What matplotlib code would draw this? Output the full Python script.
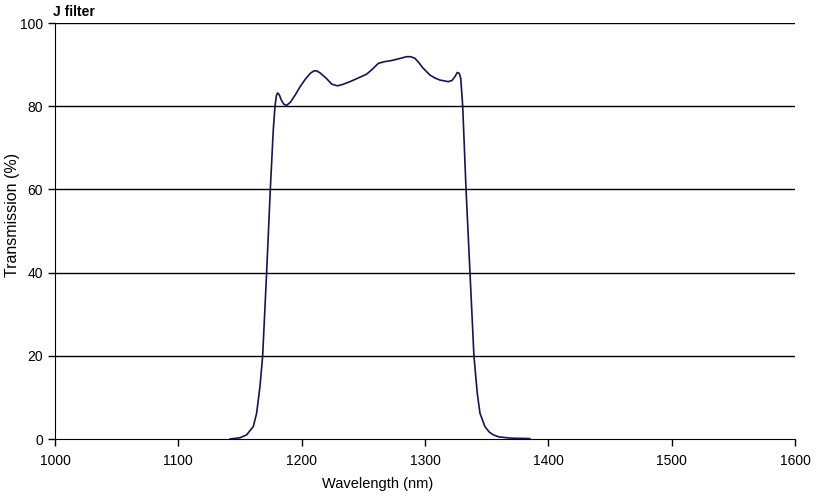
import matplotlib
matplotlib.use("Agg")
import matplotlib.pyplot as plt

plt.rcParams['font.family'] = ['Liberation Sans', 'DejaVu Sans']

# J filter transmission curve
wavelength = [1142, 1150, 1155.4, 1160.8, 1163.5, 1166.2, 1168.4, 1171.6, 1174.6, 1177,
              1178.4, 1179.5, 1180.5, 1181.8, 1183.5, 1185.5, 1187.8, 1191, 1195, 1199,
              1203, 1207, 1210, 1212.2, 1215, 1220, 1224.5, 1228.9, 1233, 1239.2,
              1246, 1252.7, 1257, 1262.2, 1267, 1271.6, 1276, 1280, 1285.1, 1288.5,
              1291.9, 1295, 1298, 1304, 1308, 1312, 1318.9, 1322, 1324.5, 1326.2,
              1327.8, 1329, 1330.6, 1333.3, 1336.5, 1339.7, 1342.4, 1344.6, 1348.6, 1352,
              1355.4, 1360, 1370, 1385]
transmission = [0.0, 0.3, 1.0, 3.0, 6.2, 12.6, 20, 40, 60, 74.3,
                80, 82.5, 83.2, 82.8, 81.5, 80.5, 80.2, 81.0, 82.8, 84.8,
                86.5, 87.9, 88.5, 88.5, 88.0, 86.7, 85.3, 84.9, 85.2, 85.9,
                86.8, 87.7, 88.8, 90.3, 90.7, 90.9, 91.2, 91.5, 91.9, 91.9,
                91.5, 90.5, 89.3, 87.5, 86.8, 86.3, 85.9, 86.2, 87.2, 88.1,
                87.9, 86.7, 80, 60, 40, 20, 11, 6.2, 3.0, 1.7,
                1.0, 0.5, 0.2, 0.1]

y_ticks = [0, 20, 40, 60, 80, 100]
x_ticks = [1000, 1100, 1200, 1300, 1400, 1500, 1600]

fig = plt.figure(figsize=(8.17, 4.97), dpi=100)
ax = fig.add_axes([0.0673, 0.1167, 0.9057, 0.837])

for t in y_ticks[1:]:
    ax.axhline(t, color='black', linewidth=1.0, zorder=1)

ax.plot(wavelength, transmission, color='#14145a', linewidth=1.2, zorder=3)

ax.set_xlim(1000, 1600)
ax.set_ylim(0, 100)
ax.set_xticks(x_ticks)
ax.set_yticks(y_ticks)
ax.tick_params(direction='out', length=5, width=1, labelsize=10, colors='black')
ax.tick_params(axis='x', pad=6)
ax.spines['top'].set_visible(False)
ax.spines['right'].set_visible(False)

ax.set_xlabel('Wavelength (nm)', fontsize=10.5)
ax.set_ylabel('Transmission (%)', fontsize=11.5)
ax.xaxis.set_label_coords(0.436, -0.092)
ax.yaxis.set_label_coords(-0.047, 0.538)
fig.text(0.065, 0.975, 'J filter', fontsize=10, fontweight='bold', va='center', ha='left')

fig.savefig('out.png', dpi=100)
